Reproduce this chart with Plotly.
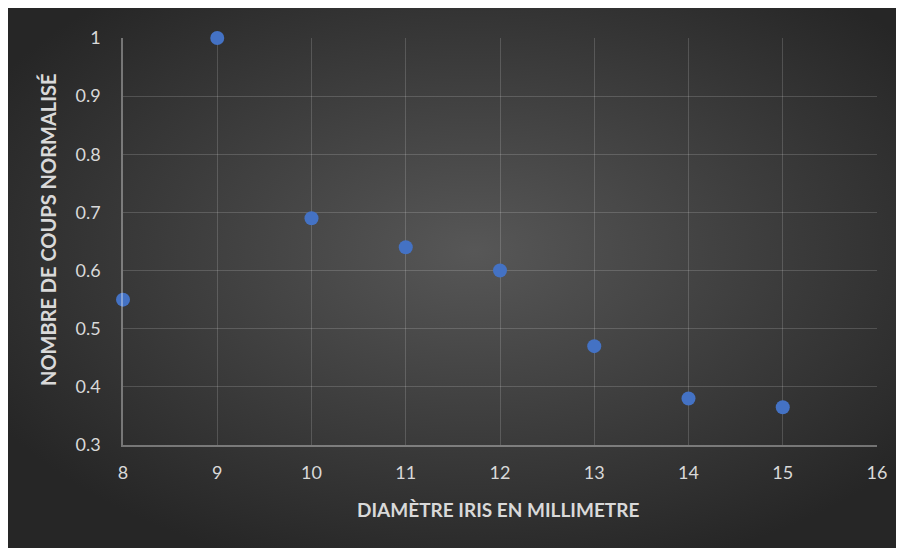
import base64
import plotly.graph_objects as go

# Data
diametre_mm = [8, 9, 10, 11, 12, 13, 14, 15]
coups_normalise = [0.55, 1.0, 0.69, 0.64, 0.60, 0.47, 0.38, 0.365]

x_ticks = [8, 9, 10, 11, 12, 13, 14, 15, 16]
y_ticks = [0.3, 0.4, 0.5, 0.6, 0.7, 0.8, 0.9, 1.0]
y_ticktext = ["0.3", "0.4", "0.5", "0.6", "0.7", "0.8", "0.9", "1"]

x_title = "DIAMÈTRE IRIS EN MILLIMETRE"
y_title = "NOMBRE DE COUPS NORMALISÉ"

# page body adds an 8px margin, so the figure is sized to fit the window
W, H = 896, 540
L, R, T, B = 115, 27, 30, 103
pw, ph = W - L - R, H - T - B

svg = (
    '<svg xmlns="http://www.w3.org/2000/svg" width="896" height="540" preserveAspectRatio="none" viewBox="0 0 896 540">'
    '<defs><radialGradient id="g" cx="0.52" cy="0.45" r="0.62" gradientUnits="objectBoundingBox">'
    '<stop offset="0" stop-color="#575757"/><stop offset="1" stop-color="#262626"/>'
    '</radialGradient></defs><rect width="896" height="540" fill="url(#g)"/></svg>'
)
src = "data:image/svg+xml;base64," + base64.b64encode(svg.encode()).decode()

def px_to_paper_x(px):
    return (px - L) / pw

def py_to_paper_y(py):
    return (H - B - py) / ph

fig = go.Figure()
fig.add_trace(go.Scatter(
    x=diametre_mm, y=coups_normalise, mode="markers",
    marker=dict(color="#4472C4", size=14, line=dict(width=0)),
    hoverinfo="x+y", cliponaxis=False,
))

font_color = "#d9d9d9"
fam = "Lato, Open Sans, sans-serif"
fig.update_layout(
    width=W, height=H,
    margin=dict(l=L, r=R, t=T, b=B, pad=0),
    paper_bgcolor="#2a2a2a",
    plot_bgcolor="rgba(0,0,0,0)",
    showlegend=False,
    font=dict(family=fam, size=18, color=font_color),
    images=[dict(
        source=src, xref="paper", yref="paper",
        x=px_to_paper_x(0), y=py_to_paper_y(0),
        sizex=px_to_paper_x(W) - px_to_paper_x(0),
        sizey=py_to_paper_y(0) - py_to_paper_y(H),
        sizing="stretch", layer="below", xanchor="left", yanchor="top",
    )],
    xaxis=dict(
        range=[8, 16], tickvals=x_ticks, ticktext=[str(v) for v in x_ticks],
        showgrid=True, gridcolor="rgba(255,255,255,0.16)", gridwidth=1,
        showline=True, linecolor="rgba(255,255,255,0.35)", linewidth=1.5,
        zeroline=False, ticks="outside", ticklen=11, tickcolor="rgba(0,0,0,0)",
        tickfont=dict(size=18, color=font_color, family=fam),
    ),
    yaxis=dict(
        range=[0.3, 1.0], tickvals=y_ticks, ticktext=y_ticktext,
        showgrid=True, gridcolor="rgba(255,255,255,0.16)", gridwidth=1,
        showline=True, linecolor="rgba(255,255,255,0.35)", linewidth=1.5,
        zeroline=False, ticks="outside", ticklen=17, tickcolor="rgba(0,0,0,0)",
        tickfont=dict(size=18, color=font_color, family=fam),
    ),
    annotations=[
        dict(text="<b>" + x_title + "</b>", xref="paper", yref="paper",
             x=px_to_paper_x(490), y=py_to_paper_y(501), showarrow=False,
             xanchor="center", yanchor="middle",
             font=dict(size=19, color=font_color, family=fam)),
        dict(text="<b>" + y_title + "</b>", xref="paper", yref="paper",
             x=px_to_paper_x(40), y=py_to_paper_y(222), showarrow=False,
             xanchor="center", yanchor="middle", textangle=-90,
             font=dict(size=20, color=font_color, family=fam)),
    ],
)

fig.write_html("out.html")
